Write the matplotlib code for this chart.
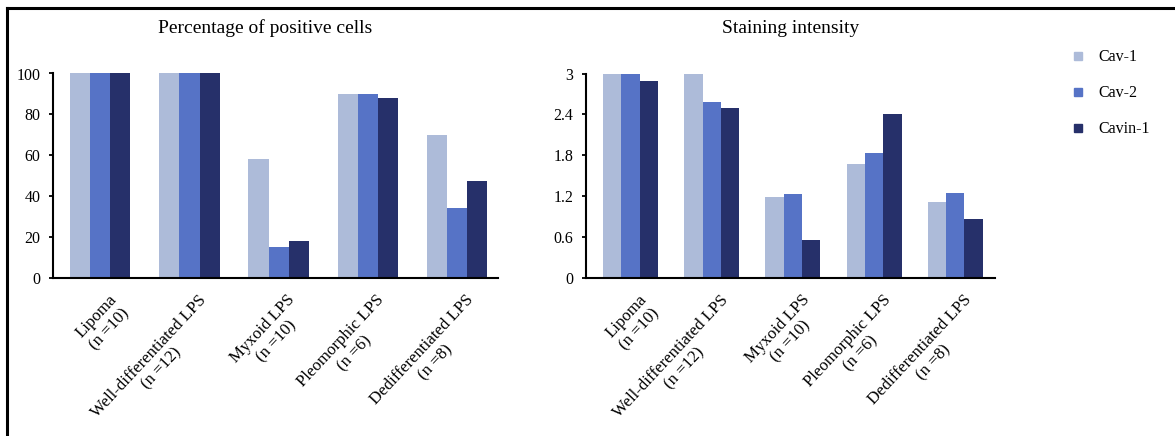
import matplotlib.pyplot as plt
import numpy as np
from matplotlib.lines import Line2D
from matplotlib.transforms import ScaledTranslation

# datos
categorias = ['Lipoma\n(n =10)', 'Well-differentiated LPS\n(n =12)', 'Myxoid LPS\n(n =10)',
              'Pleomorphic LPS\n(n =6)', 'Dedifferentiated LPS\n(n =8)']
series = ['Cav-1', 'Cav-2', 'Cavin-1']

# porcentaje de celulas positivas
pct_cav1 = [100, 100, 58, 90, 70]
pct_cav2 = [100, 100, 15, 90, 34]
pct_cavin1 = [100, 100, 18, 88, 47.5]

# intensidad de tincion
int_cav1 = [3.0, 3.0, 1.19, 1.67, 1.11]
int_cav2 = [3.0, 2.58, 1.23, 1.83, 1.25]
int_cavin1 = [2.89, 2.49, 0.56, 2.41, 0.87]

colores = ['#adbbd9', '#5673c6', '#26306a']

plt.rcParams['font.family'] = ['Liberation Serif', 'DejaVu Serif']

fig = plt.figure(figsize=(11.75, 4.36), dpi=100)

W, H = 1175, 436


def hacer_panel(rect, datos, ylim, yticks, xlim):
    ax = fig.add_axes(rect)
    x = np.arange(len(categorias))
    ancho = 0.226
    for k, vals in enumerate(datos):
        ax.bar(x + (k - 1) * ancho, vals, width=ancho, color=colores[k], label=series[k])
    ax.set_xlim(*xlim)
    ax.set_ylim(*ylim)
    ax.set_yticks(yticks)
    ax.set_yticklabels(['%g' % v for v in yticks], fontsize=11.5)
    ax.set_xticks(x)
    ax.set_xticklabels(categorias, rotation=47, ha='right', va='top',
                       rotation_mode='anchor', multialignment='center', fontsize=12.2)
    ax.tick_params(axis='x', length=0, pad=10)
    ax.tick_params(axis='y', length=3, width=1.3, direction='out', pad=6)
    # desplazar un poco las etiquetas a la derecha
    for lbl in ax.get_xticklabels():
        lbl.set_transform(lbl.get_transform() + ScaledTranslation(0.08, 0, fig.dpi_scale_trans))
    for s in ['top', 'right']:
        ax.spines[s].set_visible(False)
    for s in ['left', 'bottom']:
        ax.spines[s].set_linewidth(1.5)
    return ax


top = 1 - 73.5 / H
bot = 1 - 278 / H
ax1 = hacer_panel([53 / W, bot, 445 / W, top - bot],
                  [pct_cav1, pct_cav2, pct_cavin1],
                  (0, 100), [0, 20, 40, 60, 80, 100], (-0.53, 4.46))
ax2 = hacer_panel([586 / W, bot, 409 / W, top - bot],
                  [int_cav1, int_cav2, int_cavin1],
                  (0, 3), [0, 0.6, 1.2, 1.8, 2.4, 3.0], (-0.55, 4.49))

fig.text(265 / W, 1 - 28 / H, 'Percentage of positive cells', ha='center', va='center', fontsize=14)
fig.text(791 / W, 1 - 28 / H, 'Staining intensity', ha='center', va='center', fontsize=14)

# leyenda
handles = [Line2D([], [], marker='s', linestyle='none', markersize=6,
                  markerfacecolor=c, markeredgecolor=c) for c in colores]
fig.legend(handles, series, loc='upper left', bbox_to_anchor=(1056 / W, 1 - 35 / H),
           frameon=False, fontsize=11.5, labelspacing=1.25, handlelength=1.0,
           handletextpad=0.75)

# marco de la imagen
fig.add_artist(Line2D([7 / W, 7 / W], [0, 1 - 8 / H], color='black', linewidth=2.2))
fig.add_artist(Line2D([7 / W, 1], [1 - 8 / H, 1 - 8 / H], color='black', linewidth=2.2))

fig.savefig('out.png', dpi=100)
